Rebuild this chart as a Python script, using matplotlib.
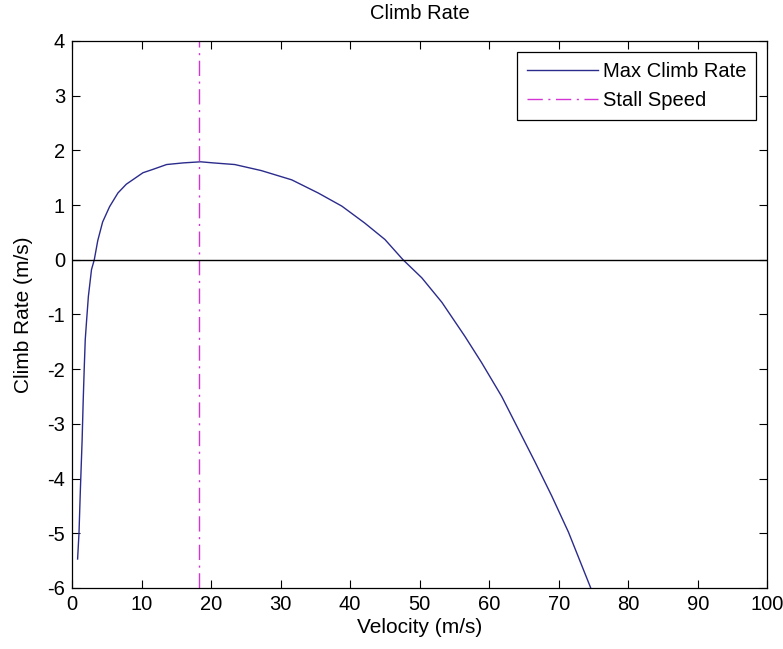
import numpy as np
import matplotlib
matplotlib.use("Agg")
import matplotlib.pyplot as plt

# valeurs (vitesse en m/s, taux de montee en m/s)
velocity = [0.8, 1.0, 1.2, 1.45, 1.6, 1.75, 1.9, 2.1, 2.35, 2.8, 3.2, 3.7,
            4.4, 5.4, 6.6, 7.8, 10.2, 11.6, 13.6, 16.0, 18.5, 20.3, 23.4,
            27.2, 31.6, 35.4, 38.8, 42.1, 45.0, 47.6, 50.3, 53.2, 56.5,
            58.9, 61.8, 64.2, 66.6, 69.0, 71.4, 74.6]
climb_rate = [-5.47, -5.0, -4.2, -3.3, -2.6, -2.0, -1.46, -1.1, -0.67, -0.18,
              0.0, 0.35, 0.69, 0.97, 1.22, 1.38, 1.59, 1.65, 1.74, 1.77, 1.79,
              1.77, 1.74, 1.63, 1.46, 1.22, 0.98, 0.67, 0.37, 0.0, -0.33,
              -0.78, -1.40, -1.88, -2.50, -3.10, -3.70, -4.32, -4.98, -6.0]

stall_speed = 18.2
y_range = [-6, 4]
x_range = [0, 100]

plt.rcParams['font.family'] = ['Liberation Sans', 'DejaVu Sans']
plt.rcParams['axes.unicode_minus'] = False

fig = plt.figure(figsize=(7.83, 6.49), dpi=100)
ax = fig.add_axes([0.092, 0.094, 0.888, 0.843])

ax.plot(velocity, climb_rate, color='#2b2b8c', linewidth=1.0, label='Max Climb Rate')
ax.plot([stall_speed, stall_speed], y_range, color='#d633d6', linewidth=1.0,
        dashes=(11, 4, 1.5, 4), label='Stall Speed')
ax.plot(x_range, [0, 0], color='black', linewidth=1.0)

ax.set_xlim(x_range)
ax.set_ylim(y_range)
ax.set_xticks(np.arange(0, 101, 10))
ax.set_yticks(np.arange(-6, 5, 1))
ax.tick_params(direction='in', top=True, right=True, length=6, width=0.8,
               labelsize=14.5, pad=5)
for s in ax.spines.values():
    s.set_linewidth(0.9)

ax.set_title('Climb Rate', fontsize=14.5, pad=16)
ax.set_xlabel('Velocity (m/s)', fontsize=15, labelpad=3)
ax.set_ylabel('Climb Rate (m/s)', fontsize=15, labelpad=10)

leg = ax.legend(loc='upper right', fontsize=14.5, handlelength=3.5,
                fancybox=False, framealpha=1, edgecolor='black',
                borderpad=0.5, labelspacing=0.5, handletextpad=0.25,
                borderaxespad=0.55)
leg.get_frame().set_linewidth(0.9)

fig.savefig('out.png', dpi=100)
